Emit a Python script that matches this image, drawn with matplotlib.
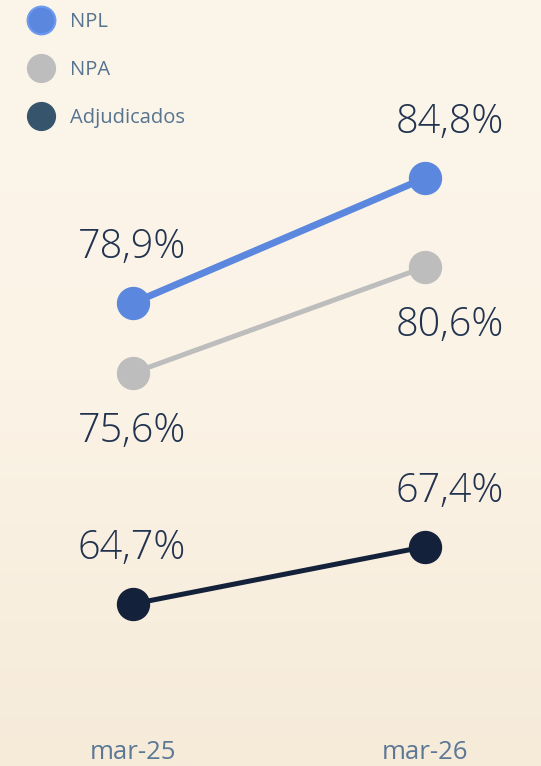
import numpy as np
import matplotlib

matplotlib.use('Agg')
import matplotlib.pyplot as plt
from matplotlib.lines import Line2D
from matplotlib.colors import LinearSegmentedColormap

# chart data
periods = ['mar-25', 'mar-26']
series_names = ['NPL', 'NPA', 'Adjudicados']
npl = [78.9, 84.8]
npa = [75.6, 80.6]
adjudicados = [64.7, 67.4]

plt.rcParams['font.family'] = ['Open Sans', 'DejaVu Sans']

fig = plt.figure(figsize=(5.41, 7.66), dpi=100)

# soft cream gradient background
bg = fig.add_axes([0, 0, 1, 1], zorder=-1)
grad = LinearSegmentedColormap.from_list('bg', ['#FCF5EA', '#FBF3E6', '#F6EBD9'])
bg.imshow(np.linspace(0, 1, 256).reshape(-1, 1), aspect='auto', cmap=grad,
          extent=[0, 1, 0, 1])
bg.axis('off')

ax = fig.add_axes([0, 36 / 766, 1, 730 / 766])
ax.patch.set_alpha(0)
x = np.arange(len(periods))

styles = [
    (npl, '#5B88DE', 5.0, 'above'),
    (npa, '#BDBDBD', 3.6, 'below'),
    (adjudicados, '#14213A', 3.6, 'above'),
]
text_color = '#22334F'

for values, color, lw, where in styles:
    ax.plot(x, values, color=color, lw=lw, marker='o', markersize=23,
            solid_capstyle='round', zorder=3)
    for i, v in enumerate(values):
        dy = 40 if where == 'above' else -42
        dx = -1 if i == 0 else 18
        ax.annotate('{:.1f}%'.format(v).replace('.', ','), (x[i], v),
                    xytext=(dx, dy), textcoords='offset points',
                    ha='center', va='center', fontsize=28.5, fontweight=300,
                    color=text_color)

ax.set_xlim(-0.4555, 1.397)
ax.set_ylim(58.75, 93.2)
ax.set_xticks(x)
ax.set_xticklabels(periods, fontsize=18.5, color='#5B7896')
ax.tick_params(axis='x', length=0, pad=7)
ax.set_yticks([])
for s in ax.spines.values():
    s.set_visible(False)

handles = [
    Line2D([], [], ls='none', marker='o', markersize=20, color='#5B88DE',
           markeredgecolor='#6E9BF0', markeredgewidth=1.5),
    Line2D([], [], ls='none', marker='o', markersize=20, color='#BDBDBD'),
    Line2D([], [], ls='none', marker='o', markersize=20, color='#36546B'),
]
leg = fig.legend(handles, series_names, loc='upper left',
                 bbox_to_anchor=(0.022, 1.008), frameon=False, fontsize=14.5,
                 labelspacing=1.4, handletextpad=0.95, handlelength=1.05)
for t in leg.get_texts():
    t.set_color('#56738F')

fig.savefig('out.png', dpi=100)
plt.close(fig)
